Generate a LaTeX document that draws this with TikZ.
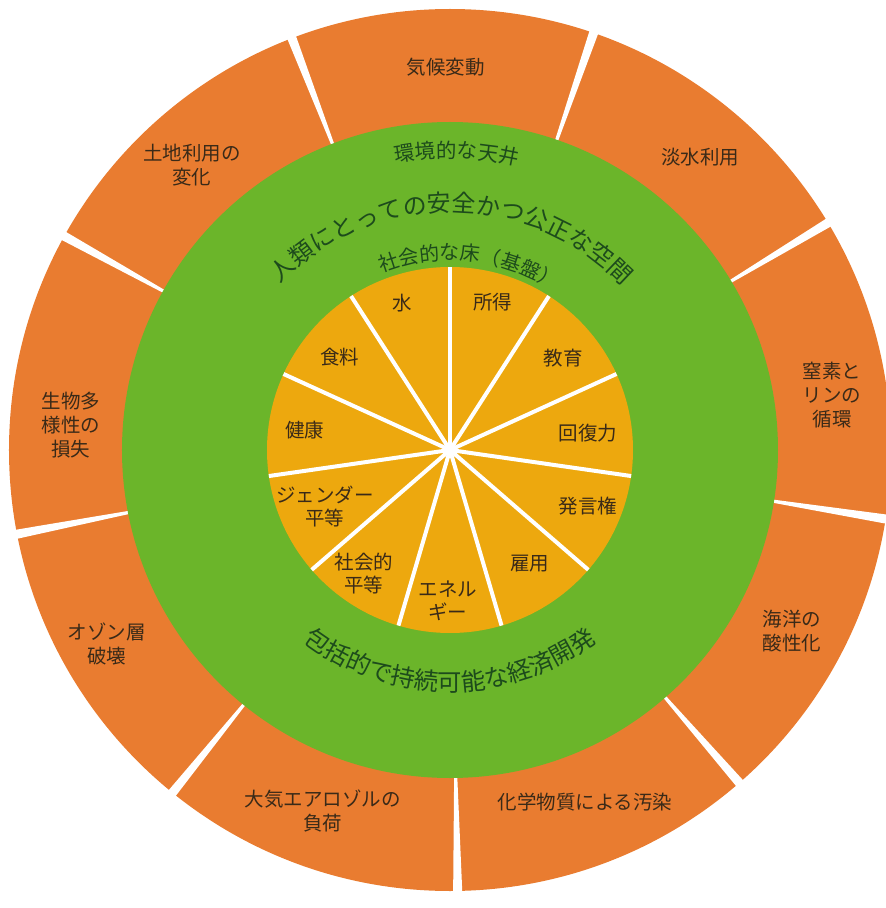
\documentclass[tikz,border=0pt]{standalone}
\usepackage{fontspec}
\newfontfamily\jpfont{Noto Sans CJK JP}
\usetikzlibrary{decorations.text}
\definecolor{ringorange}{HTML}{E97C30}
\definecolor{safegreen}{HTML}{6BB52A}
\definecolor{flooryellow}{HTML}{EDA80E}
\definecolor{labeldark}{HTML}{3A2A18}
\definecolor{leafdark}{HTML}{1D4B1C}

\begin{document}
\begin{tikzpicture}[x=1pt, y=1pt,
    ceiling/.style={font=\jpfont\fontsize{19.5}{24}\selectfont, text=labeldark, align=center, inner sep=0pt},
    floor/.style={font=\jpfont\fontsize{19.5}{23}\selectfont, text=labeldark, align=center, inner sep=0pt},
    spoke/.style={white, line width=4pt},
    arctext/.style={decorate, decoration={text along path, text align=center, text color=leafdark}}]
	\useasboundingbox (-450,-458) rectangle (436,450);
	\clip (-450,-458) rectangle (436,450);

	\fill[ringorange] (0,0) circle[radius=441pt];
	\foreach \a in {31,71,...,351}
		\fill[white] ({\a-0.25}:320pt) -- ({\a-0.6}:446pt) -- ({\a+0.6}:446pt) -- ({\a+0.25}:320pt) -- cycle;

	\fill[safegreen] (0,0) circle[radius=328pt];
	\fill[flooryellow] (0,0) circle[radius=183pt];
	\foreach \k in {0,...,10}
		\draw[spoke] (0,0) -- ({90-\k*360/11}:183pt);
	\fill[white] (0,0) circle[radius=6pt];

	\path[arctext, decoration={text={|\jpfont\fontsize{20.5}{20.5}\selectfont|環境的な天井}}]
		(148.7:292pt) arc[start angle=148.7, end angle=28.7, radius=292pt];
	\path[arctext, decoration={text={|\jpfont\fontsize{23.9}{23.9}\selectfont|人類にとっての安全かつ公正な空間}}]
		(149.6:238pt) arc[start angle=149.6, end angle=29.6, radius=238pt];
	\path[arctext, decoration={text={|\jpfont\fontsize{20}{20}\selectfont|社会的な床（基盤）}}]
		(144:190pt) arc[start angle=144, end angle=24, radius=190pt];
	\path[arctext, decoration={text={|\jpfont\fontsize{24.3}{24.3}\selectfont|包括的で持続可能な経済開発}}]
		(200:241pt) arc[start angle=200, end angle=340, radius=241pt];

	\node[ceiling] (climate) at (-4,383) {気候変動};
	\node[ceiling] (freshwater) at (250,293) {淡水利用};
	\node[ceiling] (landuse) at (-258,285) {土地利用の\\変化};
	\node[ceiling] (nitrogen) at (382,55) {窒素と\\リンの\\循環};
	\node[ceiling] (biodiversity) at (-379,25) {生物多\\様性の\\損失};
	\node[ceiling] (ozone) at (-343,-194) {オゾン層\\破壊};
	\node[ceiling] (aerosol) at (-127,-361) {大気エアロゾルの\\負荷};
	\node[ceiling] (chemical) at (135,-352) {化学物質による汚染};
	\node[ceiling] (ocean) at (342,-181) {海洋の\\酸性化};

	\node[floor] (water) at (-48,147) {水};
	\node[floor] (income) at (43,148) {所得};
	\node[floor] (food) at (-110,93) {食料};
	\node[floor] (education) at (113,92) {教育};
	\node[floor] (health) at (-145,20) {健康};
	\node[floor] (resilience) at (138,17) {回復力};
	\node[floor] (gender) at (-125,-57) {ジェンダー\\平等};
	\node[floor] (voice) at (138,-56) {発言権};
	\node[floor] (equity) at (-86,-124) {社会的\\平等};
	\node[floor] (jobs) at (80,-114) {雇用};
	\node[floor] (energy) at (-2,-151) {エネル\\ギー};
\end{tikzpicture}
\end{document}
